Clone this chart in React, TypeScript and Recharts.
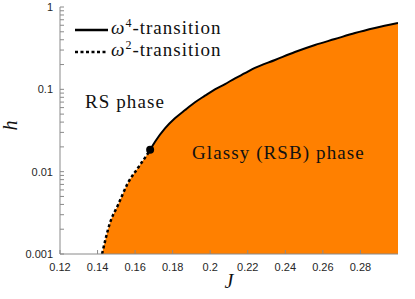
import {
  ComposedChart,
  Area,
  Line,
  XAxis,
  YAxis,
  ReferenceDot,
  Legend,
} from 'recharts'

// J values / h values
const jDotted = [0.1424, 0.1466, 0.1509, 0.1562, 0.1615, 0.1663, 0.168]
const hDotted = [0.001, 0.00238, 0.00394, 0.0073, 0.0111, 0.016, 0.0184]

const jSolid = [0.168, 0.1706, 0.1759, 0.1812, 0.1866, 0.1919, 0.1972, 0.2025, 0.2079, 0.2132, 0.2185, 0.2238, 0.2345, 0.2451, 0.2558, 0.2664, 0.2771, 0.2877, 0.3]
const hSolid = [0.0184, 0.0231, 0.0336, 0.0445, 0.0561, 0.0696, 0.0837, 0.1, 0.116, 0.136, 0.157, 0.182, 0.227, 0.284, 0.346, 0.408, 0.483, 0.556, 0.64]

const xTicks = [0.12, 0.14, 0.16, 0.18, 0.2, 0.22, 0.24, 0.26, 0.28]
const decades = [0.001, 0.01, 0.1, 1]
const minorSteps = [1, 2, 3, 4, 5, 6, 7, 8, 9]
const yTicks = [
  ...decades.slice(0, -1).flatMap((d) => minorSteps.map((m) => Number((d * m).toPrecision(3)))),
  1,
]

const tricritical = { J: 0.168, h: 0.0184 }

const phaseLabels = [
  { text: 'RS phase', J: 0.1333, h: 0.0593 },
  { text: 'Glassy (RSB) phase', J: 0.1903, h: 0.01426 },
]

// legend order as in the figure: solid first
const legendOrder = ['ω4-transition', 'ω2-transition']

const rows: { J: number; h: number; w2?: number; w4?: number }[] = [
  ...jDotted.map((j, i) => ({ J: j, h: hDotted[i], w2: hDotted[i] })),
  ...jSolid.slice(1).map((j, i) => ({ J: j, h: hSolid[i + 1], w4: hSolid[i + 1] })),
]
rows[jDotted.length - 1].w4 = hSolid[0]

const AXIS = '#8a8a8a'
const SANS = "'Liberation Sans', Arial, sans-serif"
const SERIF = "'Liberation Serif', 'Times New Roman', serif"
const TICK_TEXT = { fill: '#262626', fontSize: 11, style: { fontFamily: SANS } }
const serifText = { fontFamily: SERIF }

function fmtX(v: number) {
  return String(Number(v.toFixed(2)))
}

function fmtY(v: number) {
  return decades.includes(v) ? String(v) : ''
}

function PhaseLabel({ viewBox, value }: any) {
  if (!viewBox) return null
  return (
    <text
      x={viewBox.x + viewBox.width / 2}
      y={viewBox.y + viewBox.height / 2}
      style={serifText}
      fontSize={19}
      letterSpacing={1.1}
      fill="#111"
    >
      {value}
    </text>
  )
}

function TransitionLegend({ payload }: any) {
  const items = (payload || [])
    .filter((p: any) => p.type !== 'none')
    .sort((a: any, b: any) => legendOrder.indexOf(a.value) - legendOrder.indexOf(b.value))
  return (
    <svg width={170} height={48} style={{ display: 'block' }}>
      {items.map((item: any, i: number) => {
        const y = 13 + i * 22
        const [, power, rest] = /^ω(\d)(.*)$/.exec(item.value) || ['', '', item.value]
        return (
          <g key={item.value}>
            <line x1={2} x2={35} y1={y} y2={y} stroke="#000" strokeWidth={2.5}
              strokeDasharray={item.payload?.strokeDasharray} />
            <text x={38} y={y + 4} style={serifText} fontSize={19} letterSpacing={1} fill="#111">
              <tspan fontStyle="italic">ω</tspan>
              <tspan dy={-7} fontSize={12}>{power}</tspan>
              <tspan dy={7}>{rest}</tspan>
            </text>
          </g>
        )
      })}
    </svg>
  )
}

export default function App() {
  return (
    <div style={{ position: 'absolute', left: 0, top: 0, background: '#fff' }}>
      <ComposedChart width={415} height={299} data={rows} margin={{ top: 7, right: 17, bottom: 5, left: 8 }}>
        <XAxis
          dataKey="J"
          type="number"
          domain={[0.12, 0.3]}
          ticks={xTicks}
          interval={0}
          allowDataOverflow
          tickFormatter={fmtX}
          tick={TICK_TEXT}
          tickSize={-4}
          tickMargin={13}
          stroke={AXIS}
          height={40}
          label={{ value: 'J', position: 'insideBottom', offset: 6, style: serifText, fontStyle: 'italic', fontSize: 20, fill: '#111' }}
        />
        <XAxis
          xAxisId="top"
          dataKey="J"
          type="number"
          orientation="top"
          domain={[0.12, 0.3]}
          ticks={xTicks}
          interval={0}
          allowDataOverflow
          tick={false}
          tickSize={-4}
          stroke={AXIS}
          height={0}
        />
        <YAxis
          type="number"
          scale="log"
          domain={[0.001, 1]}
          ticks={yTicks}
          interval={0}
          allowDataOverflow
          tickFormatter={fmtY}
          tick={TICK_TEXT}
          tickSize={-4}
          tickMargin={11}
          stroke={AXIS}
          width={52}
          label={{ value: 'h', angle: -90, position: 'insideLeft', offset: 2, style: serifText, fontStyle: 'italic', fontSize: 20, fill: '#111' }}
        />
        <YAxis
          yAxisId="right"
          orientation="right"
          type="number"
          scale="log"
          domain={[0.001, 1]}
          ticks={yTicks}
          interval={0}
          allowDataOverflow
          tick={false}
          tickSize={-4}
          stroke={AXIS}
          width={0}
        />
        <Area
          dataKey="h"
          type="monotone"
          baseValue={0.001}
          fill="#ff8000"
          fillOpacity={1}
          stroke="none"
          legendType="none"
          isAnimationActive={false}
        />
        <Line
          dataKey="w4"
          name="ω4-transition"
          type="monotone"
          stroke="#000"
          strokeWidth={2}
          dot={false}
          activeDot={false}
          isAnimationActive={false}
        />
        <Line
          dataKey="w2"
          name="ω2-transition"
          type="monotone"
          stroke="#000"
          strokeWidth={2.5}
          strokeDasharray="3 2.5"
          dot={false}
          activeDot={false}
          isAnimationActive={false}
        />
        <ReferenceDot x={tricritical.J} y={tricritical.h} r={4} fill="#000" stroke="none" />
        {phaseLabels.map((p) => (
          <ReferenceDot key={p.text} x={p.J} y={p.h} r={0.01} fill="none" stroke="none"
            label={<PhaseLabel value={p.text} />} />
        ))}
        <Legend
          layout="vertical"
          align="center"
          verticalAlign="middle"
          content={<TransitionLegend />}
          wrapperStyle={{ left: 73, top: 17, width: 170 }}
        />
      </ComposedChart>
    </div>
  )
}
